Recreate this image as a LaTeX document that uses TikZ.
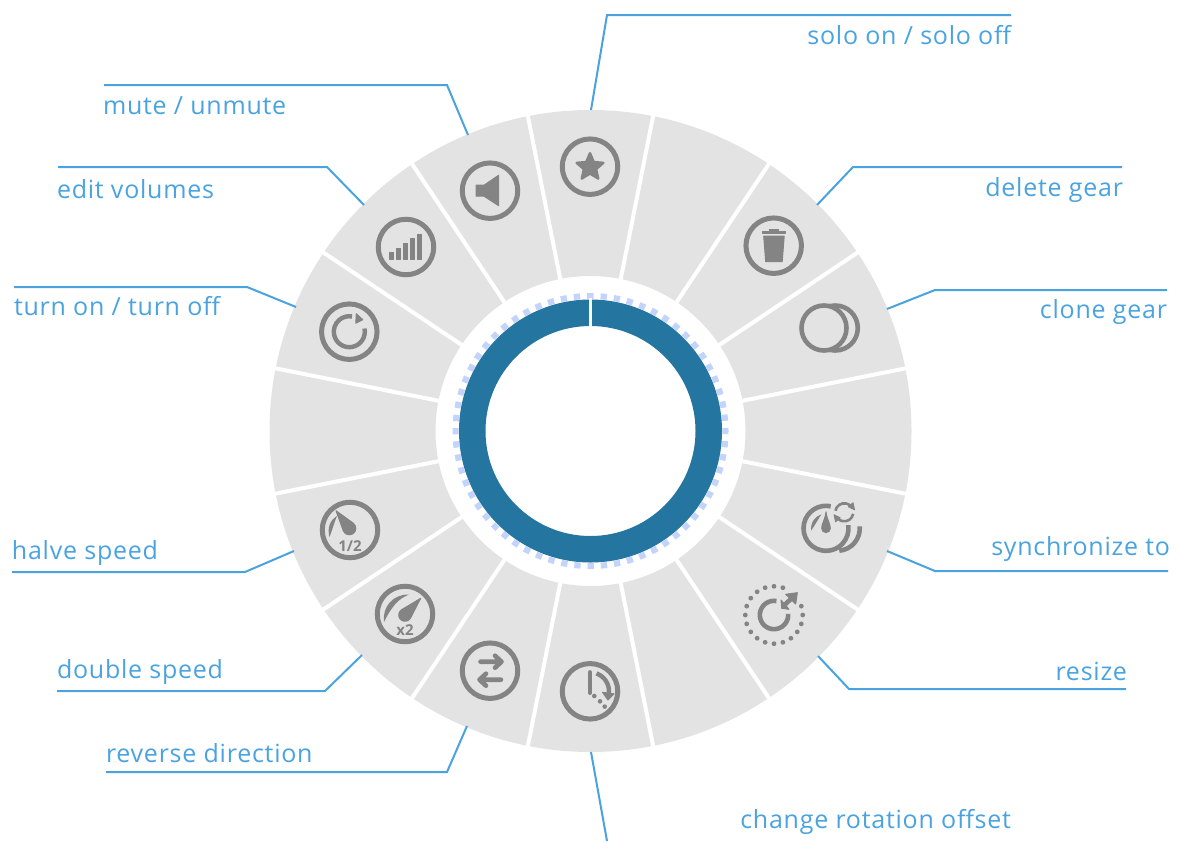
\documentclass[tikz,border=0pt]{standalone}
\usepackage{fontspec}
\setmainfont{Open Sans}
\newfontfamily\labelfont[LetterSpace=3]{Open Sans}
\usetikzlibrary{arrows.meta,shapes.geometric,calc}
\definecolor{sector}{HTML}{E3E3E3}
\definecolor{glyph}{HTML}{848484}
\definecolor{teal}{HTML}{2475A0}
\definecolor{tick}{HTML}{C3D3FA}
\definecolor{callout}{HTML}{4AA3DF}
\tikzset{
  sepline/.style={draw=white,line width=4pt},
  iconring/.style={circle,draw=glyph,line width=5pt,minimum size=55.5pt,inner sep=0pt,outer sep=0pt},
  iconspot/.style={circle,minimum size=1pt,inner sep=0pt,outer sep=0pt},
  glyphline/.style={draw=glyph,line width=#1},
  glyphline/.default=4.4pt,
  glyphfill/.style={fill=glyph,draw=glyph,line width=1pt,line join=round},
  gaugetext/.style={text=glyph,font=\fontsize{15}{15}\selectfont\bfseries,inner sep=0pt},
  local/.style={shift={(#1.center)},x=1pt,y=1pt},
  calloutline/.style={draw=callout,line width=2pt},
  calloutlabel/.style={text=callout,font=\labelfont\fontsize{25}{25}\selectfont,inner sep=0pt,outer sep=0pt},
}
\begin{document}
\begin{tikzpicture}[x=1pt,y=-1pt]
\useasboundingbox (0,0) rectangle (1177,841);
\coordinate (c) at (590.5,431);
% ring of sectors
\fill[sector,even odd rule] (c) circle[radius=321pt] (c) circle[radius=155pt];
\foreach \a in {11.25,33.75,...,348.75}
  \draw[sepline] ([shift={(\a:152pt)}]c) -- ([shift={(\a:325pt)}]c);
% central ring
\draw[tick,line width=6pt,dash pattern=on 6.3pt off 6.95pt,dash phase=3.15pt] ([shift={(90:135pt)}]c) arc[start angle=90,end angle=-270,radius=135pt];
\fill[teal,even odd rule] (c) circle[radius=131.5pt] (c) circle[radius=105pt];
\draw[draw=white,line width=3pt] ([shift={(90:103pt)}]c) -- ([shift={(90:133pt)}]c);
% icon holders
\node[iconring] (star) at (590,166.7) {};
\node[iconring] (mute) at (490,190.7) {};
\node[iconring] (bars) at (406,247) {};
\node[iconring] (turn) at (349.3,331.7) {};
\node[iconring] (trash) at (773.7,245.7) {};
\node[iconspot] (clone) at (824,328) {};
\node[iconspot] (sync) at (826,528.3) {};
\node[iconspot] (resize) at (774,615) {};
\node[iconring] (clock) at (590,691.3) {};
\node[iconring] (reverse) at (490,670.7) {};
\node[iconring] (double) at (405,614) {};
\node[iconring] (halve) at (350,530) {};
% star
\begin{scope}[local=star]
  \node[star,star points=5,star point ratio=2.2,minimum size=28pt,inner sep=0pt,fill=glyph,draw=glyph,line width=2.5pt,line join=round] at (0,-0.5) {};
\end{scope}
% speaker
\begin{scope}[local=mute]
  \fill[glyphfill] (-14,5.5) -- (-6,5.5) -- (8.7,15.5) -- (8.7,-15) -- (-6,-5.5) -- (-14,-5.5) -- cycle;
\end{scope}
% bars
\begin{scope}[local=bars]
  \fill[glyphfill] (-16.5,-12.2) rectangle (-12.5,-5.8);
  \fill[glyphfill] (-9.5,-12.2) rectangle (-5.5,-1.2);
  \fill[glyphfill] (-2.5,-12.2) rectangle (1.5,3.8);
  \fill[glyphfill] (4.8,-12.2) rectangle (8.8,8.2);
  \fill[glyphfill] (11.5,-12.2) rectangle (15.5,12.2);
\end{scope}
% power loop
\begin{scope}[local=turn]
  \draw[glyphline] (12:15.5pt) arc[start angle=12,end angle=-280,radius=15.5pt];
  \fill[glyphfill] (7,18) -- (13.5,12) -- (6.5,8.5) -- cycle;
\end{scope}
% trash
\begin{scope}[local=trash]
  \fill[glyphfill] (-11.5,12.5) rectangle (12,14);
  \fill[glyphfill] (-4.5,14) rectangle (4.5,16);
  \fill[glyphfill] (-10,9.5) -- (10.5,9.5) -- (8.5,-16) -- (-8,-16) -- cycle;
\end{scope}
% clone
\begin{scope}[local=clone]
  \draw[glyphline=4.6pt] (11.3,0) circle[radius=22.5pt];
  \draw[glyphline=4.6pt,fill=sector] (0,0) circle[radius=22.5pt];
\end{scope}
% synchronize
\begin{scope}[local=sync]
  \draw[glyphline=4.6pt] (11.3,0) ++(5:22.5pt) arc[start angle=5,end angle=-85,radius=22.5pt];
  \draw[glyphline=4.6pt] (78:22.5pt) arc[start angle=78,end angle=368,radius=22.5pt];
  \fill[glyphfill] (0,16.5) .. controls (-1,8) and (-4.3,5) .. (-4.3,0) arc[start angle=180,end angle=360,radius=4.3pt] .. controls (4.3,5) and (1,8) .. (0,16.5) -- cycle;
  \fill[glyph] (-15,-2.5) .. controls (-15.5,6) and (-11,12) .. (-4.5,14) .. controls (-8,9) and (-10.5,4) .. (-15,-2.5) -- cycle;
  \draw[glyphline=2.6pt] (18.3,16) ++(170:9pt) arc[start angle=170,end angle=45,radius=9pt];
  \draw[glyphline=2.6pt] (18.3,16) ++(-10:9pt) arc[start angle=-10,end angle=-135,radius=9pt];
  \fill[glyphfill] (22.5,21.5) -- (27,25.5) -- (28.5,18.5) -- cycle;
  \fill[glyphfill] (14.1,10.5) -- (9.6,6.5) -- (8.1,13.5) -- cycle;
\end{scope}
% resize
\begin{scope}[local=resize]
  \foreach \a in {0,18,72,90,...,342}
    \fill[glyph] (\a:28.7pt) circle[radius=2.4pt];
  \draw[glyphline=4.6pt] (80:14.2pt) arc[start angle=80,end angle=365,radius=14.2pt];
  \draw[glyphline=4.6pt] (11,10.5) -- (19,18);
  \fill[glyphfill] (23.3,22.3) -- (11.7,20.7) -- (21.7,11) -- cycle;
  \fill[glyphfill] (7.7,6.7) -- (7,15) -- (15,5.7) -- cycle;
\end{scope}
% clock
\begin{scope}[local=clock]
  \draw[glyphline,line cap=round] (0,19) -- (0,-1.5);
  \draw[glyphline] (70:19pt) arc[start angle=70,end angle=-5,radius=19pt];
  \fill[glyphfill] (12.5,-1) -- (24,-2.5) -- (18,-8.7) -- cycle;
  \fill[glyph] (4.3,-4.7) circle[radius=2.3pt] (10,-10) circle[radius=2.3pt] (14.7,-15.3) circle[radius=2.3pt];
\end{scope}
% reverse
\begin{scope}[local=reverse]
  \draw[glyphline=4.6pt,line cap=round,line join=round] (-9.5,9) -- (11,9) (5,15) -- (11.5,9) -- (5,3);
  \draw[glyphline=4.6pt,line cap=round,line join=round] (11,-9) -- (-9.5,-9) (-4,-3) -- (-10.5,-9) -- (-4,-15);
\end{scope}
% x2 gauge
\begin{scope}[local=double]
  \fill[glyphfill] (15.7,15.7) -- ($(0,-1)+(122:6.3pt)$) arc[start angle=122,end angle=332,radius=6.3pt] -- cycle;
  \fill[glyph] (-21,-8) .. controls (-23,7) and (-12,20) .. (4,19.5) .. controls (-7,15) and (-13,8) .. (-21,-8) -- cycle;
  \node[gaugetext] (doubletext) at (0,-16) {x2};
\end{scope}
% 1/2 gauge
\begin{scope}[local=halve]
  \fill[glyphfill] (-14,19.3) -- ($(-0.7,1.7)+(202:6.5pt)$) arc[start angle=202,end angle=412,radius=6.5pt] -- cycle;
  \fill[glyph] (-20.5,-7) .. controls (-23,2) and (-20,10) .. (-13,14) .. controls (-16,7) and (-17,2) .. (-20.5,-7) -- cycle;
  \node[gaugetext] (halvetext) at (0,-16.5) {1/2};
\end{scope}
% callouts: labels
\node[calloutlabel,anchor=base east] (lsolo) at (1011,44) {solo on / solo off};
\node[calloutlabel,anchor=base west] (lmute) at (103,114) {mute / unmute};
\node[calloutlabel,anchor=base west] (ledit) at (57,198) {edit volumes};
\node[calloutlabel,anchor=base west] (lturn) at (14,315) {turn on / turn off};
\node[calloutlabel,anchor=base east] (ldelete) at (1123,196) {delete gear};
\node[calloutlabel,anchor=base east] (lclone) at (1167,318) {clone gear};
\node[calloutlabel,anchor=base east] (lsync) at (1170,555) {synchronize to};
\node[calloutlabel,anchor=base east] (lresize) at (1127,680) {resize};
\node[calloutlabel,anchor=base east] (lchange) at (1011,828) {change rotation offset};
\node[calloutlabel,anchor=base west] (lhalve) at (12,559) {halve speed};
\node[calloutlabel,anchor=base west] (ldouble) at (57,678) {double speed};
\node[calloutlabel,anchor=base west] (lreverse) at (106,762) {reverse direction};
% callouts: lines
\foreach \n/\ex/\ey/\mx/\my/\rx/\ry in {
  solo/1011/15/607/15/591/110,
  mute/104/85/447/85/468/135,
  edit/58/167/327/167/364/205,
  turnon/14/287/247/287/296/307,
  delete/1122/167/853/167/817/205,
  clonegear/1167/290/935/290/887/309,
  synch/1168/571/935/571/887/551,
  resizeit/1126/689/849/689/818/656,
  halvesp/12/572/245/572/294/551,
  doublesp/57/691/325/691/362/655,
  reversedir/106/772/447/772/467/726}{
  \coordinate (\n-end) at (\ex,\ey);
  \coordinate (\n-elbow) at (\mx,\my);
  \coordinate (\n-rim) at (\rx,\ry);
  \draw[calloutline] (\n-end) -- (\n-elbow) -- (\n-rim);
}
\coordinate (change-end) at (607,841);
\coordinate (change-rim) at (591,752);
\draw[calloutline] (change-end) -- (change-rim);
\end{tikzpicture}
\end{document}
